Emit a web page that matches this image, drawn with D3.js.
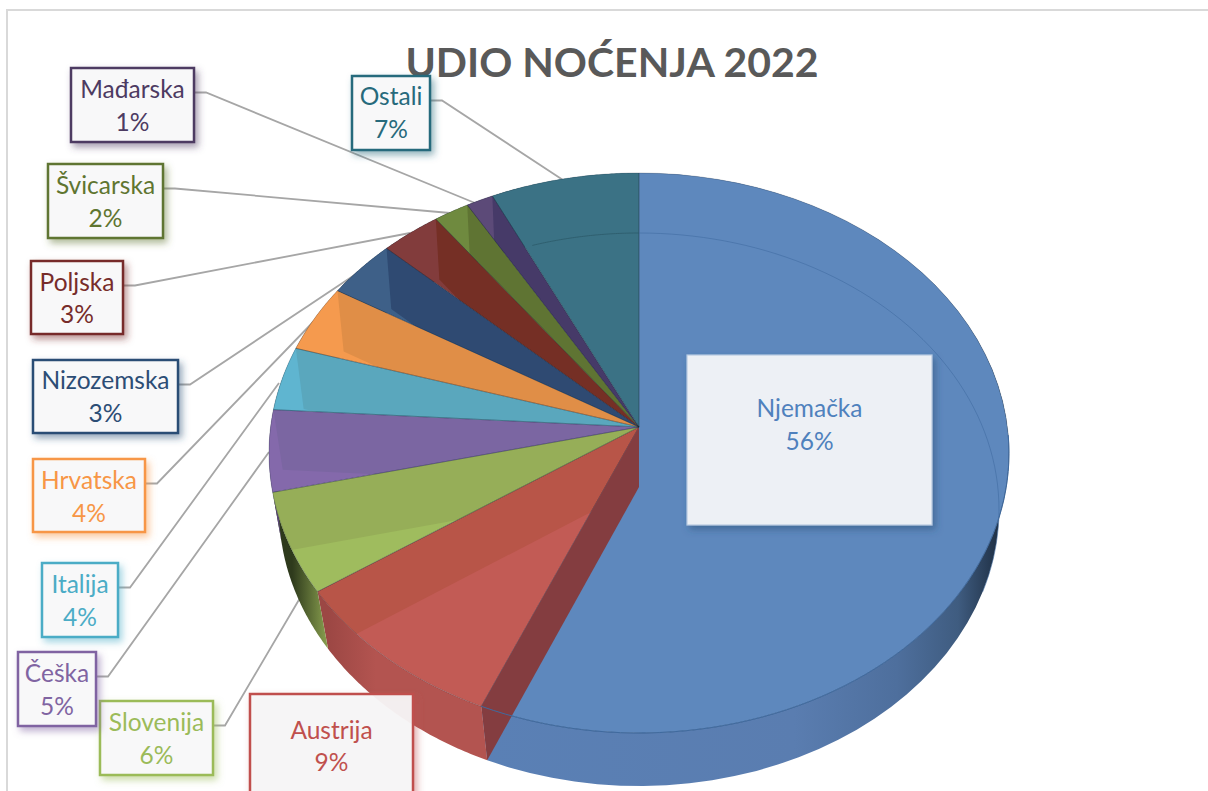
<!DOCTYPE html>
<html><head><meta charset="utf-8">
<script src="https://cdn.jsdelivr.net/npm/d3@7"></script>
<style>html,body{margin:0;padding:0;background:#fff;overflow:hidden}svg{display:block}text{font-family:Lato,"Open Sans",sans-serif}</style>
</head><body><svg id="c" width="1208" height="791"></svg>
<script>
const categories=["Njemačka","Austrija","Slovenija","Češka","Italija","Hrvatska","Nizozemska","Poljska","Švicarska","Mađarska","Ostali"];
const values=[56.4,9.1,5.8,4.7,3.7,3.9,3.4,2.9,1.7,1.3,7.1];
const percentLabels=["56%","9%","6%","5%","4%","4%","3%","3%","2%","1%","7%"];
const chartTitle="UDIO NOĆENJA 2022";

// styles
const seriesColors=["#4f81bd","#c0504d","#9bbb59","#8064a2","#4bacc6","#f79646","#2c4d75","#772c2a","#5f7530","#4d3b62","#276a7c"];
const topFill=["#5e88bd","#c25b55","#9fbc5e","#8469ab","#5fb5d0","#f59a4e","#3e6088","#823c3c","#6f8a3f","#5c4a78","#3b7285"];
const bandFill=["#5e88bd","#b85548","#96ae58","#7b66a2","#5aa7bd","#e08e47","#2f4a72","#752f25","#5f7433","#463a68","#3b7285"];
const wallFrom=["#5a80b5","#b35450","#8aa04f","#7a60a0","#4ba0b8","#e08a40","#2c4d75","#772c2a","#5f7530","#4d3b62","#276a7c"];
const wallTo=["#1f3045","#9c4744","#2e3a1c","#5a4578","#357a8c","#b06a30","#20385a","#552020","#405020","#352a45","#1c4a58"];

// layout: [x0,y0,x1,y1] boxes, first-line and second-line baselines, leader targets
const boxes=[[687,355,932,525],[250,694,413,800],[100,701,213,775],[18,652,96,726],[42,563,118,637],[33,459,145,532],[33,360,178,433],[31,261,123,334],[48,164,163,238],[71,68,194,142],[352,76,430,150]];
const firstBaseline=[417,739,731,682,593,489,389,291,194,98,105];
const secondBaseline=[450,771,764,715,626,522,422,323,227,131,138];
const leaderEnds=[null,null,[300,598],[269,452],[279,383],[317,318],[359,272],[410,233],[450,213],[475,203],[563,180]];

const topGeom={cx:639,cy:453,rx:370,ry:280,apexY:427};
const botGeom={cx:639,cy:509.5,rx:360,ry:276.5,apexY:487};
function projector(g){
  const b=(g.apexY-g.cy)/g.ry,s=Math.sqrt(1-b*b);
  return t=>{const u=Math.sin(t),v=-Math.cos(t),d=1+b*v;
    return [g.cx+g.rx*u*s/d,g.cy+g.ry*(v+b)/d];};
}
const topPt=projector(topGeom),botPt=projector(botGeom);
const topApex=[topGeom.cx,topGeom.apexY],botApex=[botGeom.cx,botGeom.apexY];
const arcs=d3.pie().sort(null).startAngle(0).endAngle(2*Math.PI)(values);
const samples=(a,b)=>d3.range(0,61).map(i=>a+(b-a)*i/60);
const line=d3.line();
const closed=p=>line(p)+"Z";

const svg=d3.select("#c");
const defs=svg.append("defs");
arcs.forEach((a,i)=>{
  defs.append("clipPath").attr("id","w"+i).append("path").attr("d",closed([topApex,...samples(a.startAngle,a.endAngle).map(topPt)]));
  const ts=samples(a.startAngle,a.endAngle).map(botPt);
  const xs=d3.extent(ts,d=>d[0]);
  const gr=defs.append("linearGradient").attr("id","g"+i).attr("gradientUnits","userSpaceOnUse")
    .attr("x1",xs[0]).attr("x2",xs[1]).attr("y1",0).attr("y2",0);
  if(i===0){
    [[0,"#5a80b5"],[.6,"#5a7db0"],[.8,"#4e6f9d"],[.92,"#3f5c80"],[1,"#1f3045"]].forEach(s=>gr.append("stop").attr("offset",s[0]).attr("stop-color",s[1]));
  } else if(i===2){
    gr.attr("x1",xs[1]).attr("x2",xs[0]);
    gr.append("stop").attr("offset",0).attr("stop-color",wallFrom[i]);
    gr.append("stop").attr("offset",.8).attr("stop-color",wallTo[i]);
  } else {
    gr.attr("x1",xs[0]).attr("x2",xs[1]);
    gr.append("stop").attr("offset",0).attr("stop-color",wallTo[i]);
    gr.append("stop").attr("offset",.3).attr("stop-color",wallFrom[i]);
  }
});
categories.forEach((c,i)=>{
  const f=defs.append("filter").attr("id","sh"+i).attr("x","-20%").attr("y","-20%").attr("width","150%").attr("height","150%");
  f.append("feDropShadow").attr("dx",3).attr("dy",4).attr("stdDeviation",3.5).attr("flood-color",i===0?"#2c4d75":seriesColors[i]).attr("flood-opacity",.5);
});

// frame
svg.append("path").attr("d",line([[7,791],[7,10],[1208,10]])).attr("fill","none").attr("stroke","#d9d9d9").attr("stroke-width",2);

// title
svg.append("text").attr("x",612).attr("y",77).attr("text-anchor","middle").attr("font-size",41).attr("font-weight",700).attr("fill","#595959").text(chartTitle);

// leaders
const gLead=svg.append("g").attr("fill","none").attr("stroke","#a6a6a6").attr("stroke-width",1.8);
categories.forEach((c,i)=>{
  const e=leaderEnds[i]; if(!e) return;
  const b=boxes[i],y=b[1]+24.5;
  gLead.append("path").attr("d",line([[b[2],y],[b[2]+12,y],e]));
});

// outer walls
const gPie=svg.append("g");
arcs.forEach((a,i)=>{
  const ts=samples(a.startAngle,a.endAngle);
  gPie.append("path").attr("d",closed([...ts.map(topPt),...ts.slice().reverse().map(botPt)]))
    .attr("fill",`url(#g${i})`);
});
// top faces and inner bands
arcs.forEach((a,i)=>{
  const ts=samples(a.startAngle,a.endAngle);
  gPie.append("path").attr("d",closed([topApex,...ts.map(topPt)])).attr("fill",topFill[i]);
  gPie.append("path").attr("clip-path",`url(#w${i})`)
    .attr("d",closed([topPt(a.endAngle),botPt(a.endAngle),botApex,topApex])).attr("fill",bandFill[i]);
});
// face outlines
arcs.forEach((a,i)=>{
  const ts=samples(a.startAngle,a.endAngle);
  gPie.append("path").attr("d",closed([topApex,...ts.map(topPt)])).attr("fill","none").attr("stroke","#1a2a3a").attr("stroke-opacity",.3).attr("stroke-width",.8);
});
// see-through inner wall of the first slice boundary
const w0=arcs[0].endAngle;
gPie.append("path").attr("d",closed([topPt(w0),botPt(w0),botApex,topApex])).attr("fill","#843d40");
// see-through back arc of the bottom face
gPie.append("path").attr("d",line(samples(arcs[10].startAngle+.12,2*Math.PI).map(botPt))).attr("fill","none").attr("stroke","#2c5a6a").attr("stroke-width",.8);
gPie.append("path").attr("d",line(samples(0,1.95).map(botPt))).attr("fill","none").attr("stroke","#3f6a9f").attr("stroke-opacity",.7).attr("stroke-width",.8);
gPie.append("path").attr("d",line(samples(1.6,w0).map(topPt))).attr("fill","none").attr("stroke","#3f6a9f").attr("stroke-width",1);

// labels
categories.forEach((c,i)=>{
  const b=boxes[i],w=b[2]-b[0],h=b[3]-b[1],cx=(b[0]+b[2])/2;
  const g=svg.append("g");
  g.append("rect").attr("x",b[0]).attr("y",b[1]).attr("width",w).attr("height",h)
    .attr("fill",i===0?"#edf0f5":"#f8f8f9").attr("fill-opacity",i===1?.93:1)
    .attr("stroke",i===0?"#b7cae2":seriesColors[i]).attr("stroke-width",i===0?1.2:2.5)
    .attr("filter",`url(#sh${i})`);
  const tx=g.append("g").attr("text-anchor","middle").attr("font-size",24.5).attr("fill",seriesColors[i]);
  tx.append("text").attr("x",cx).attr("y",firstBaseline[i]).text(c);
  tx.append("text").attr("x",cx).attr("y",secondBaseline[i]).text(percentLabels[i]);
});
</script></body></html>
